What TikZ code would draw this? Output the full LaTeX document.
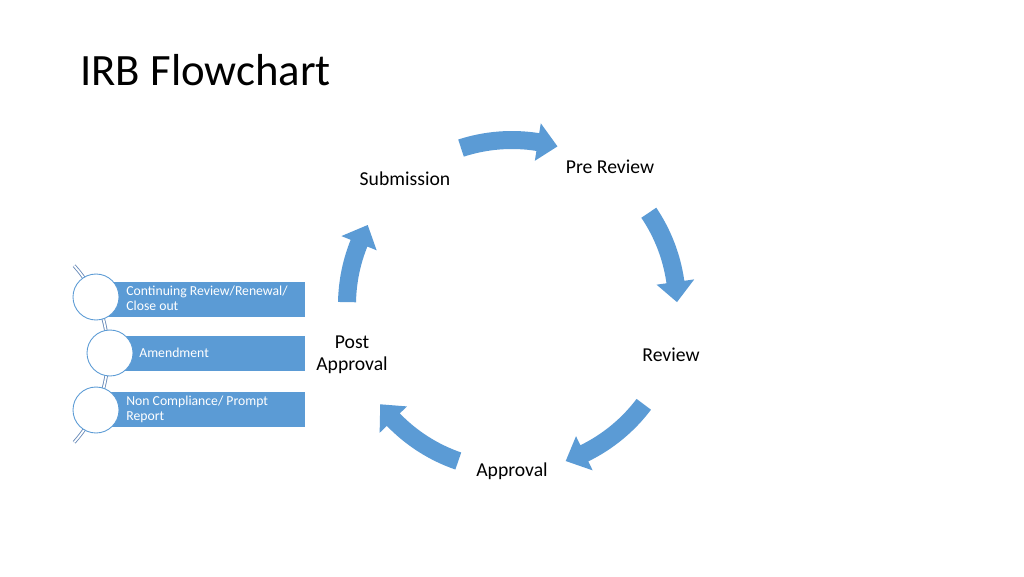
\documentclass[tikz,border=0pt]{standalone}
\usepackage{fontspec}
\setmainfont{Carlito}
\usepackage{tikz}
\usetikzlibrary{calc}
\definecolor{irbblue}{HTML}{5B9BD5}
\definecolor{irbline}{HTML}{6A8CBA}
\def\cyclearrow(#1:#2){\fill[irbblue] (#1:174) arc (#1:#2+7:174) -- (#2+7:184) -- (#2:165) -- (#2+7:146) -- (#2+7:156) arc (#2+7:#1:156) -- cycle;}
\tikzset{
	steplabel/.style={font=\fontsize{11.2}{12.5}\selectfont, align=center, inner sep=0pt},
	listtext/.style={font=\fontsize{7.8}{8.6}\selectfont, text=white, align=left, anchor=west, inner sep=0pt},
	listdot/.style={circle, draw=irbblue, fill=white, line width=0.5pt, minimum size=0.92cm, inner sep=0pt}
}
\begin{document}
\begin{tikzpicture}[x=0.02cm, y=0.02cm]
			%%%%% START %%%%%
			
			\fill[white] (0, 0) rectangle (1024, 576);
			\useasboundingbox (0, 0) rectangle (1024, 576);
			
			\node[anchor=base west, inner sep=0pt, font=\fontsize{25.5}{30}\selectfont] (title) at (80, 491) {IRB Flowchart};
			
			\node[steplabel] (submission) at (405, 397) {Submission};
			\node[steplabel] (prereview) at (610, 409) {Pre Review};
			\node[steplabel] (review) at (671, 221) {Review};
			\node[steplabel] (approval) at (512, 105) {Approval};
			\node[steplabel] (postapproval) at (352, 221) {Post\\Approval};
			
			\begin{scope}[shift={(512, 271)}]
				\cyclearrow(108:74)
				\cyclearrow(34:1)
				\cyclearrow(-37:-71)
				\cyclearrow(-109:-143)
				\cyclearrow(179:151)
			\end{scope}
			
			\fill[irbblue] (96, 259) rectangle (305, 294);
			\fill[irbblue] (110, 205) rectangle (305, 240);
			\fill[irbblue] (96, 149) rectangle (305, 184);
			
			\draw[irbline, line width=0.5pt, double=white, double distance=1pt] ($(-24, 222)+(42:132)$) arc (42:-42:132);
			
			\node[listdot] (dotcont) at (96, 279) {};
			\node[listdot] (dotamend) at (110, 223) {};
			\node[listdot] (dotnon) at (96, 166) {};
			
			\node[listtext] (contreview) at (126, 278) {Continuing Review/Renewal/\\Close out};
			\node[listtext] (amendment) at (139, 223) {Amendment};
			\node[listtext] (noncompliance) at (126, 167) {Non Compliance/ Prompt\\Report};
			
			%%%%% END %%%%%
\end{tikzpicture}
\end{document}
